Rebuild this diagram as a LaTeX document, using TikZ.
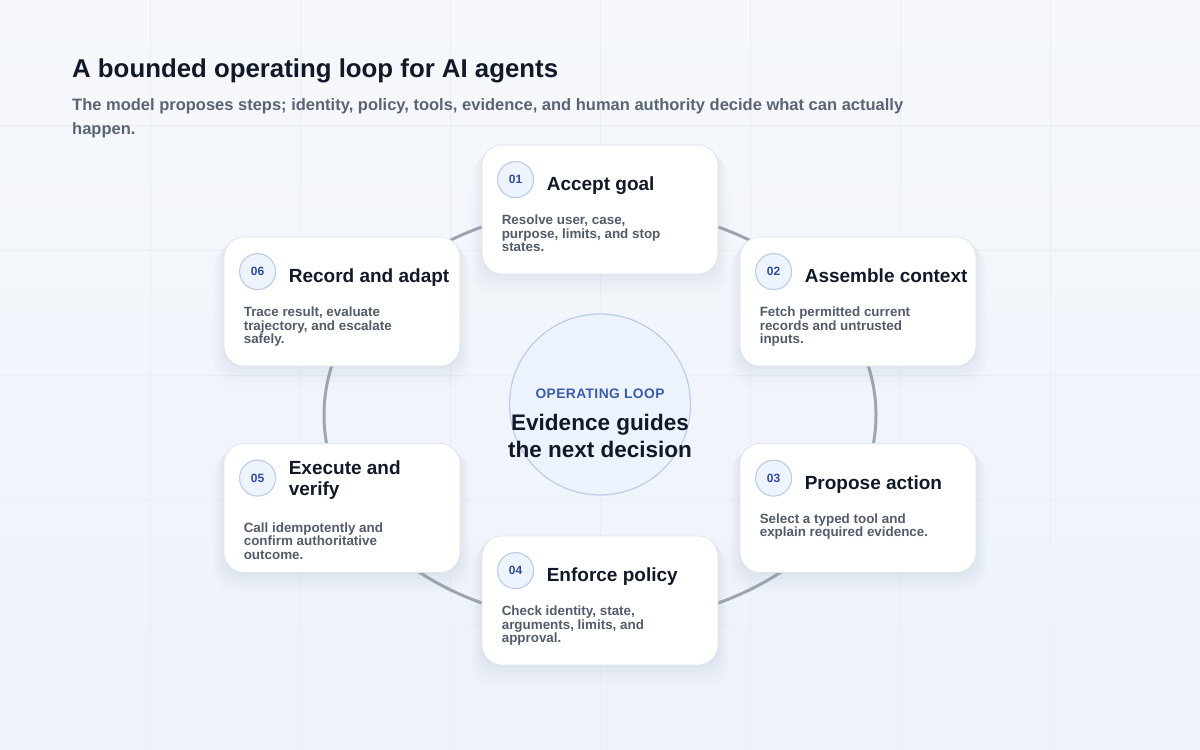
\documentclass[tikz,border=0pt]{standalone}
\usepackage{fontspec}
\setmainfont{Liberation Sans}
\usetikzlibrary{shadows}

\definecolor{ink}{HTML}{111827}
\definecolor{subink}{HTML}{5A6474}
\definecolor{bodyink}{HTML}{525C6A}
\definecolor{numink}{HTML}{2F4C9B}
\definecolor{kickink}{HTML}{3B5CAB}
\definecolor{bgtop}{HTML}{F6F8FB}
\definecolor{bgbot}{HTML}{EDF2FB}
\definecolor{gridc}{HTML}{E9EDF4}
\definecolor{ringc}{HTML}{9FA5B0}
\definecolor{cardline}{HTML}{DFE5EE}
\definecolor{numfill}{HTML}{EEF4FE}
\definecolor{numline}{HTML}{BCCBE8}
\definecolor{hubfill}{HTML}{EDF3FD}
\definecolor{hubline}{HTML}{BCCDEB}
\definecolor{shadowc}{HTML}{8A9AB5}

\tikzset{
  card/.style={draw=cardline, line width=0.8pt, fill=white, rounded corners=20pt,
    minimum width=236pt, minimum height=129pt, inner sep=0pt,
    drop shadow={shadow xshift=0pt, shadow yshift=-14pt, shadow scale=1.09, opacity=0.02, fill=shadowc},
    drop shadow={shadow xshift=0pt, shadow yshift=-11pt, shadow scale=1.07, opacity=0.025, fill=shadowc},
    drop shadow={shadow xshift=0pt, shadow yshift=-8pt, shadow scale=1.05, opacity=0.03, fill=shadowc},
    drop shadow={shadow xshift=0pt, shadow yshift=-5pt, shadow scale=1.03, opacity=0.035, fill=shadowc},
    drop shadow={shadow xshift=0pt, shadow yshift=-2pt, shadow scale=1.01, opacity=0.04, fill=shadowc}},
  num/.style={circle, draw=numline, line width=1.1pt, fill=numfill, minimum size=36pt,
    inner sep=0pt, text=numink, font=\bfseries\fontsize{12}{12}\selectfont},
  head/.style={anchor=north west, inner sep=0pt, align=left, text=ink,
    font=\bfseries\fontsize{19}{21}\selectfont},
  body/.style={anchor=north west, inner sep=0pt, align=left, text=bodyink,
    font=\bfseries\fontsize{13.4}{13.5}\selectfont},
  gridline/.style={draw=gridc, line width=0.8pt},
  ring/.style={draw=ringc, line width=3pt},
  hub/.style={circle, draw=hubline, line width=1.2pt, fill=hubfill, minimum size=181pt, inner sep=0pt},
}

\begin{document}
\begin{tikzpicture}[x=1pt, y=-1pt]
    \useasboundingbox (0,0) rectangle (1200,750);
    % backdrop
    \shade[top color=bgtop, bottom color=bgbot] (0,0) rectangle (1200,750);
    \foreach \gx in {150,300,...,1050} \draw[gridline] (\gx,0) -- (\gx,750);
    \foreach \gy in {125,250,...,625} \draw[gridline] (0,\gy) -- (1200,\gy);

    % heading
    \node[anchor=base west, inner sep=0pt, text=ink, font=\bfseries\fontsize{25.8}{30}\selectfont]
        (title) at (72,77) {A bounded operating loop for AI agents};
    \node[anchor=north west, inner sep=0pt, align=left, text=subink, font=\bfseries\fontsize{16.5}{24}\selectfont]
        (subtitle) at (72,98) {The model proposes steps; identity, policy, tools, evidence, and human authority decide what can actually\\happen.};

    % loop and hub
    \draw[ring] (600,415) ellipse [x radius=276, y radius=208];
    \node[hub] (hub) at (600,404.5) {};
    \node[anchor=base, inner sep=0pt, text=kickink, font=\bfseries\fontsize{13.8}{14}\selectfont\addfontfeatures{LetterSpace=3}]
        (kicker) at (600,398) {OPERATING LOOP};
    \node[anchor=north, inner sep=0pt, align=center, text=ink, font=\bfseries\fontsize{22.5}{27}\selectfont]
        (hubtext) at (600,414) {Evidence guides\\the next decision};

    % 01
    \node[card] (goal) at (600,209.5) {};
    \node[num] (goalnum) at ([shift={(34,35)}]goal.north west) {01};
    \node[head] (goalhead) at ([shift={(65,32.2)}]goal.north west) {Accept goal};
    \node[body] (goalbody) at ([shift={(20,70)}]goal.north west) {Resolve user, case,\\purpose, limits, and stop\\states.};
    % 02
    \node[card] (context) at (858,301.5) {};
    \node[num] (contextnum) at ([shift={(34,35)}]context.north west) {02};
    \node[head] (contexthead) at ([shift={(65,32.2)}]context.north west) {Assemble context};
    \node[body] (contextbody) at ([shift={(20,70)}]context.north west) {Fetch permitted current\\records and untrusted\\inputs.};
    % 03
    \node[card] (action) at (858,508) {};
    \node[num] (actionnum) at ([shift={(34,35)}]action.north west) {03};
    \node[head] (actionhead) at ([shift={(65,32.2)}]action.north west) {Propose action};
    \node[body] (actionbody) at ([shift={(20,70)}]action.north west) {Select a typed tool and\\explain required evidence.};
    % 04
    \node[card] (policy) at (600,600.5) {};
    \node[num] (policynum) at ([shift={(34,35)}]policy.north west) {04};
    \node[head] (policyhead) at ([shift={(65,32.2)}]policy.north west) {Enforce policy};
    \node[body] (policybody) at ([shift={(20,70)}]policy.north west) {Check identity, state,\\arguments, limits, and\\approval.};
    % 05
    \node[card] (execute) at (342,508) {};
    \node[num] (executenum) at ([shift={(34,35)}]execute.north west) {05};
    \node[head] (executehead) at ([shift={(65,17.2)}]execute.north west) {Execute and\\verify};
    \node[body] (executebody) at ([shift={(20,79)}]execute.north west) {Call idempotently and\\confirm authoritative\\outcome.};
    % 06
    \node[card] (record) at (342,301.5) {};
    \node[num] (recordnum) at ([shift={(34,35)}]record.north west) {06};
    \node[head] (recordhead) at ([shift={(65,32.2)}]record.north west) {Record and adapt};
    \node[body] (recordbody) at ([shift={(20,70)}]record.north west) {Trace result, evaluate\\trajectory, and escalate\\safely.};
\end{tikzpicture}
\end{document}
